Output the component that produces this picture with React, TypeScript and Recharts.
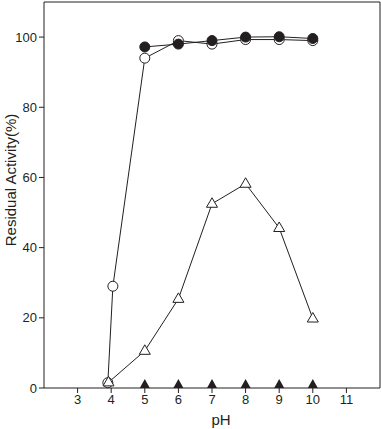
import { ComposedChart, Line, Scatter, XAxis, YAxis, ReferenceLine, Label } from "recharts";

const openCirclePh = [3.9, 4.05, 5, 6, 7, 8, 9, 10];
const openCircleVal = [1.5, 29, 94, 99, 98, 99.3, 99.3, 99];
const filledCirclePh = [5, 6, 7, 8, 9, 10];
const filledCircleVal = [97.2, 98, 99, 100, 100.1, 99.6];
const openTriPh = [3.92, 5, 6, 7, 8, 9, 10];
const openTriVal = [1.6, 10.6, 25.4, 52.5, 58.2, 45.6, 19.8];
const filledTriPh = [5, 6, 7, 8, 9, 10];
const filledTriVal = [0, 0, 0, 0, 0, 0];
const xTicks = [3, 4, 5, 6, 7, 8, 9, 10, 11];
const yTicks = [0, 20, 40, 60, 80, 100];

const zip = (xs: number[], ys: number[]) => xs.map((ph, i) => ({ ph, v: ys[i] }));

const openCircles = zip(openCirclePh, openCircleVal);
const filledCircles = zip(filledCirclePh, filledCircleVal);
const openTris = zip(openTriPh, openTriVal);
const filledTris = zip(filledTriPh, filledTriVal);

const ink = "#231f20";
const font = "'Liberation Sans', Arial, sans-serif";

const OpenTri = (p: any) => {
  const { cx, cy } = p;
  if (cx == null || cy == null) return null;
  return <path d={`M${cx},${cy - 6} L${cx + 5.5},${cy + 3.5} L${cx - 5.5},${cy + 3.5} Z`} fill="#fff" stroke={ink} strokeWidth={1} />;
};

const FilledTri = (p: any) => {
  const { cx, cy } = p;
  if (cx == null || cy == null) return null;
  return <path d={`M${cx},${cy - 9} L${cx + 5},${cy} L${cx - 5},${cy} Z`} fill={ink} />;
};

export default function App() {
  return (
    <div style={{ position: "absolute", left: 0, top: 0, background: "#fff" }}>
      <ComposedChart width={381} height={429} margin={{ top: 2, right: 1, bottom: 0, left: 0 }}>
        <XAxis
          type="number"
          dataKey="ph"
          domain={[2, 12]}
          ticks={xTicks}
          allowDuplicatedCategory={false}
          height={41}
          tickSize={5}
          stroke={ink}
          tick={{ fill: ink, fontSize: 13, fontFamily: font }}
        >
          <Label
            content={() => (
              <text x={221} y={425} textAnchor="middle" fill={ink} fontSize={15} fontFamily={font}>
                pH
              </text>
            )}
          />
        </XAxis>
        <YAxis
          type="number"
          domain={[0, 110]}
          ticks={yTicks}
          width={44}
          tickSize={5}
          stroke={ink}
          tick={{ fill: ink, fontSize: 13, fontFamily: font }}
        >
          <Label
            content={() => (
              <text
                x={10}
                y={180}
                transform="rotate(-90 10 180)"
                textAnchor="middle"
                dominantBaseline="central"
                fill={ink}
                fontSize={15}
                fontFamily={font}
              >
                Residual Activity(%)
              </text>
            )}
          />
        </YAxis>
        <ReferenceLine y={110} stroke={ink} />
        <ReferenceLine x={12} stroke={ink} />
        <Line
          data={openCircles}
          dataKey="v"
          stroke={ink}
          strokeWidth={1}
          dot={{ r: 5, fill: "#fff", stroke: ink, strokeWidth: 1 }}
          isAnimationActive={false}
        />
        <Line
          data={openTris}
          dataKey="v"
          stroke={ink}
          strokeWidth={1}
          dot={<OpenTri />}
          isAnimationActive={false}
        />
        <Line
          data={filledCircles}
          dataKey="v"
          stroke={ink}
          strokeWidth={1}
          dot={{ r: 5, fill: ink, stroke: ink, strokeWidth: 1 }}
          isAnimationActive={false}
        />
        <Scatter data={filledTris} dataKey="v" shape={<FilledTri />} isAnimationActive={false} />
      </ComposedChart>
    </div>
  );
}
